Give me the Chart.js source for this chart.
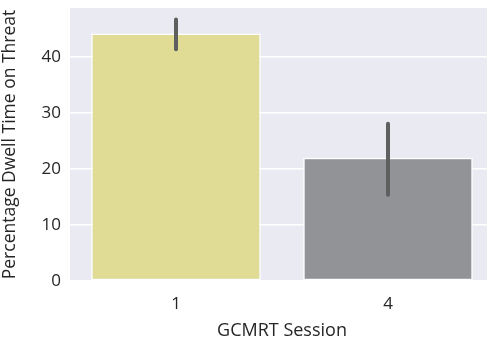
<!DOCTYPE html>
<html>
<head>
<meta charset="utf-8">
<script src="https://cdn.jsdelivr.net/npm/chart.js@4"></script>
<style>
  html, body { margin: 0; padding: 0; background: #fff; overflow: hidden; }
  #wrap { width: 487px; height: 342px; overflow: hidden; }
</style>
</head>
<body>
<!-- canvas is a bit wider than the window: the original figure is cropped on the right -->
<div id="wrap"><canvas id="chart" width="494" height="342"></canvas></div>
<script>
// data
const sessions = ['1', '4'];
const dwellMeans = [44.2, 22.0];
const ciLow = [41.4, 15.4];
const ciHigh = [46.7, 28.1];
const barColors = ['#e0dc95', '#929396'];
const yTicks = [0, 10, 20, 30, 40];

const FONT = '"Open Sans", "DejaVu Sans", sans-serif';

// grey panel behind the plot, like seaborn's darkgrid
const panelBg = {
    id: 'panelBg',
    beforeDraw(chart) {
        const a = chart.chartArea;
        const c = chart.ctx;
        c.save();
        c.fillStyle = '#eaeaf2';
        c.fillRect(a.left, a.top, a.right - a.left, a.bottom - a.top);
        c.restore();
    }
};

// confidence interval lines on top of each bar
const errorBars = {
    id: 'errorBars',
    afterDatasetsDraw(chart) {
        const c = chart.ctx;
        const x = chart.scales.x;
        const y = chart.scales.y;
        c.save();
        c.strokeStyle = '#5f5f5f';
        c.lineWidth = 4;
        c.lineCap = 'round';
        sessions.forEach((s, i) => {
            const px = x.getPixelForValue(i);
            c.beginPath();
            c.moveTo(px, y.getPixelForValue(ciLow[i]));
            c.lineTo(px, y.getPixelForValue(ciHigh[i]));
            c.stroke();
        });
        c.restore();
    }
};

new Chart(document.getElementById('chart'), {
    type: 'bar',
    data: {
        labels: sessions,
        datasets: [{
            data: dwellMeans,
            backgroundColor: barColors,
            borderColor: '#ffffff',
            borderWidth: 1.5,
            borderSkipped: false,
            barPercentage: 0.8,
            categoryPercentage: 1
        }]
    },
    options: {
        responsive: false,
        animation: false,
        layout: { padding: { top: 8, right: 0, left: 0, bottom: 0 } },
        plugins: {
            legend: { display: false },
            tooltip: { enabled: false }
        },
        scales: {
            x: {
                grid: { display: false },
                border: { display: false },
                ticks: { color: '#262626', font: { family: FONT, size: 17 }, padding: 5 },
                title: {
                    display: true,
                    text: 'GCMRT Session',
                    color: '#262626',
                    font: { family: FONT, size: 18 },
                    padding: { top: 4, bottom: 0 }
                },
                afterFit(scale) {
                    scale.height = 61;
                    scale.paddingLeft = 0;
                    scale.paddingRight = 0;
                }
            },
            y: {
                min: 0,
                max: 48.75,
                afterBuildTicks(scale) {
                    scale.ticks = yTicks.map(v => ({ value: v }));
                },
                grid: { color: '#ffffff', lineWidth: 1.5, drawTicks: false },
                border: { display: false },
                ticks: { color: '#262626', font: { family: FONT, size: 17 }, padding: 9 },
                title: {
                    display: true,
                    text: 'Percentage Dwell Time on Threat',
                    color: '#262626',
                    font: { family: FONT, size: 17.5 },
                    padding: { top: 0, bottom: 2 }
                },
                afterFit(scale) {
                    scale.width = 70;
                    scale.paddingTop = 0;
                    scale.paddingBottom = 0;
                }
            }
        }
    },
    plugins: [panelBg, errorBars]
});
</script>
</body>
</html>
